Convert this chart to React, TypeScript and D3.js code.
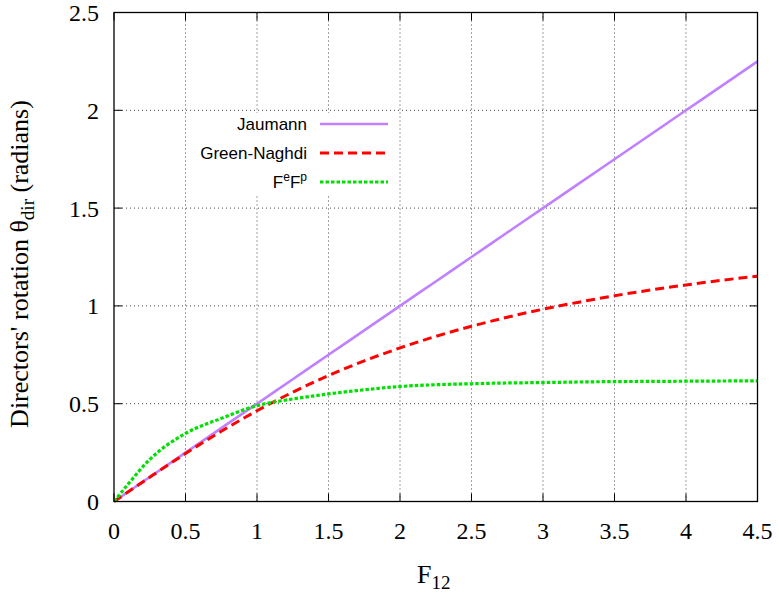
import React from "react";
import * as d3 from "d3";

const fValues = [0, 0.1, 0.25, 0.5, 0.75, 1, 1.25, 1.5, 1.75, 2, 2.25, 2.5, 2.75, 3, 3.25, 3.5, 3.75, 4, 4.25, 4.5];
const jaumann = [0, 0.05, 0.125, 0.25, 0.375, 0.5, 0.625, 0.75, 0.875, 1, 1.125, 1.25, 1.375, 1.5, 1.625, 1.75, 1.875, 2, 2.125, 2.25];
const greenNaghdi = [0, 0.05, 0.124, 0.245, 0.359, 0.464, 0.559, 0.644, 0.719, 0.785, 0.844, 0.896, 0.942, 0.983, 1.019, 1.052, 1.081, 1.107, 1.131, 1.152];
const fefp = [0, 0.09, 0.215, 0.348, 0.425, 0.49, 0.524, 0.55, 0.571, 0.588, 0.597, 0.602, 0.606, 0.608, 0.611, 0.613, 0.614, 0.615, 0.616, 0.617];

const xTicks = [0, 0.5, 1, 1.5, 2, 2.5, 3, 3.5, 4, 4.5];
const yTicks = [0, 0.5, 1, 1.5, 2, 2.5];

const W = 779, H = 597;
const L = 114, R = 757.5, T = 12.5, B = 501.5;
const serif = "'Liberation Serif', 'Times New Roman', serif";
const sans = "'Liberation Sans', Arial, sans-serif";

const series = [
  { name: "Jaumann", values: jaumann, color: "#c080ff", width: 2.6, dash: "none" },
  { name: "Green-Naghdi", values: greenNaghdi, color: "#ff0000", width: 3, dash: "9,5" },
  { name: "FeFp", values: fefp, color: "#00e000", width: 3.2, dash: "3.5,2" },
];

export default function App() {
  const x = d3.scaleLinear().domain([0, 4.5]).range([L, R]);
  const y = d3.scaleLinear().domain([0, 2.5]).range([B, T]);
  const line = (vals: number[]) =>
    d3.line<number>().x((_, i) => x(fValues[i])).y((d) => y(d)).curve(d3.curveMonotoneX)(vals) || "";

  const tick = 8;
  const legendX = 307;
  const legendLineX0 = 320, legendLineX1 = 388;
  const legendY = [124, 153, 182];
  const serifStyle = { fontFamily: serif };
  const sansStyle = { fontFamily: sans, fontSize: "17px" };

  return (
    <svg width={W} height={H} style={{ position: "absolute", left: 0, top: 0, background: "#fff" }}>
      <rect x={0} y={0} width={W} height={H} fill="#fff" />
      {/* grid */}
      <g stroke="#444" strokeWidth={1} strokeDasharray="1,3">
        {xTicks.slice(1, -1).map((t) => (
          <line key={"gx" + t} x1={x(t)} x2={x(t)} y1={T} y2={B} />
        ))}
        {yTicks.slice(1, -1).map((t) => (
          <line key={"gy" + t} x1={L} x2={R} y1={y(t)} y2={y(t)} />
        ))}
      </g>
      {/* legend box (opaque) */}
      <rect x={192} y={113} width={204} height={83} fill="#fff" />
      {/* ticks */}
      <g stroke="#000" strokeWidth={1}>
        {xTicks.map((t) => (
          <g key={"tx" + t}>
            <line x1={x(t)} x2={x(t)} y1={B} y2={B - tick} />
            <line x1={x(t)} x2={x(t)} y1={T} y2={T + tick} />
          </g>
        ))}
        {yTicks.map((t) => (
          <g key={"ty" + t}>
            <line x1={L} x2={L + tick} y1={y(t)} y2={y(t)} />
            <line x1={R} x2={R - tick} y1={y(t)} y2={y(t)} />
          </g>
        ))}
      </g>
      {/* curves */}
      {series.map((s) => (
        <path key={s.name} d={line(s.values)} fill="none" stroke={s.color} strokeWidth={s.width}
          strokeDasharray={s.dash} />
      ))}
      {/* frame */}
      <rect x={L} y={T} width={R - L} height={B - T} fill="none" stroke="#000" strokeWidth={1.3} />
      {/* tick labels */}
      {xTicks.map((t) => (
        <text key={"lx" + t} x={x(t)} y={539} textAnchor="middle" style={{ ...serifStyle, fontSize: "24px" }} fill="#000">{String(t)}</text>
      ))}
      {yTicks.map((t) => (
        <text key={"ly" + t} x={99} y={y(t) + 8.5} textAnchor="end" style={{ ...serifStyle, fontSize: "24px" }} fill="#000">{String(t)}</text>
      ))}
      {/* axis titles */}
      <text x={417} y={583} style={{ ...serifStyle, fontSize: "26px" }} fill="#000">
        F<tspan style={{ fontSize: "19px" }} dy={6}>12</tspan>
      </text>
      <text transform={`translate(28,264) rotate(-90)`} textAnchor="middle" style={{ ...serifStyle, fontSize: "26px" }} fill="#000">
        Directors' rotation θ<tspan style={{ fontSize: "19px" }} dy={6}>dir</tspan><tspan dy={-6}> (radians)</tspan>
      </text>
      {/* legend */}
      <text x={legendX} y={legendY[0] + 6} textAnchor="end" style={sansStyle} fill="#000">Jaumann</text>
      <text x={legendX} y={legendY[1] + 6} textAnchor="end" style={sansStyle} fill="#000">Green-Naghdi</text>
      <text x={legendX} y={legendY[2] + 6} textAnchor="end" style={sansStyle} fill="#000">
        F<tspan style={{ fontSize: "12px" }} dy={-7}>e</tspan><tspan dy={7}>F</tspan><tspan style={{ fontSize: "12px" }} dy={-7}>p</tspan>
      </text>
      {series.map((s, i) => (
        <line key={"leg" + s.name} x1={legendLineX0} x2={legendLineX1} y1={legendY[i]} y2={legendY[i]}
          stroke={s.color} strokeWidth={s.width} strokeDasharray={s.dash} />
      ))}
    </svg>
  );
}
